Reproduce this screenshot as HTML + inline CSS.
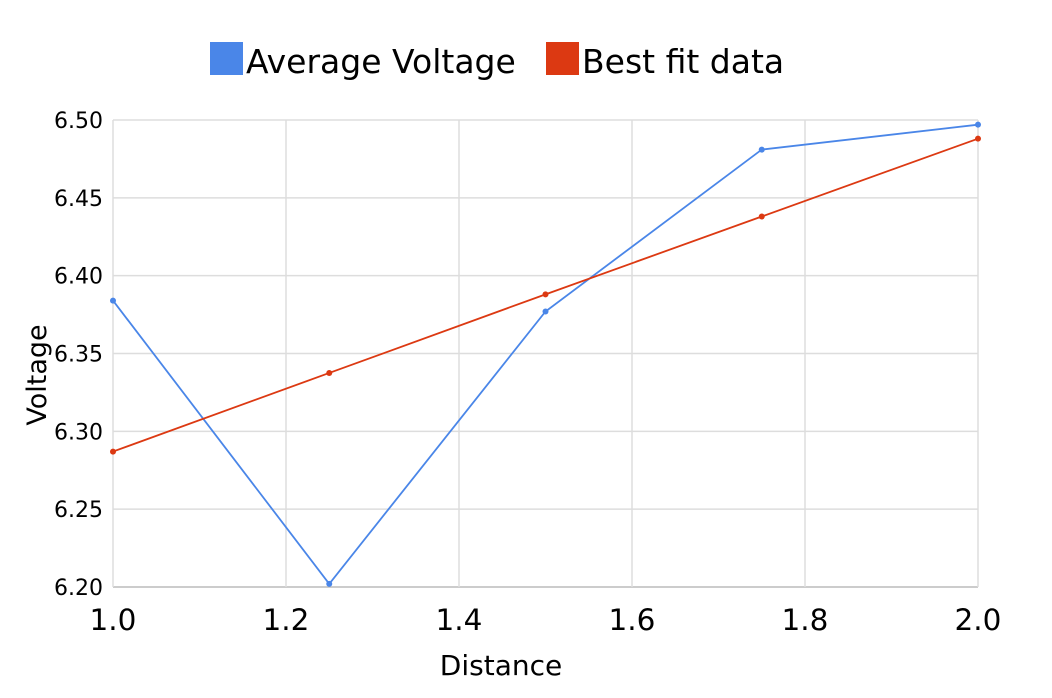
<!DOCTYPE html>
<html><head><meta charset="utf-8"><style>
body{margin:0;background:#fff;}
svg{display:block;font-family:"DejaVu Sans","Liberation Sans",sans-serif;}
</style></head><body>
<svg id="chart" width="1052" height="698">
<g id="grid"></g>
<g id="axes"></g>
<g id="series"></g>
<g>
<rect x="210" y="42" width="33" height="33" fill="#4a86e8"/>
<text x="246" y="73" font-size="33" fill="#000">Average Voltage</text>
<rect x="546" y="42" width="33" height="33" fill="#dc3912"/>
<text x="582" y="73" font-size="33" fill="#000">Best fit data</text>
</g>
<text x="501" y="675" font-size="28" text-anchor="middle">Distance</text>
<text transform="translate(46,375) rotate(-90)" font-size="27" text-anchor="middle">Voltage</text>
</svg>
<script>
const xValues=[1.0,1.25,1.5,1.75,2.0];
const avgVoltage=[6.384,6.202,6.377,6.481,6.497];
const bestFit=[6.287,6.3375,6.388,6.438,6.488];
const xTicks=[1.0,1.2,1.4,1.6,1.8,2.0];
const xTickLabels=["1.0","1.2","1.4","1.6","1.8","2.0"];
const yTicks=[6.20,6.25,6.30,6.35,6.40,6.45,6.50];
const yTickLabels=["6.20","6.25","6.30","6.35","6.40","6.45","6.50"];
const NS="http://www.w3.org/2000/svg";
const X0=113,X1=978,Y0=587,Y1=120;
function sx(v){return X0+(v-1.0)/(2.0-1.0)*(X1-X0);}
function sy(v){return Y0-(v-6.2)/(6.5-6.2)*(Y0-Y1);}
function mk(tag,attrs,parent){const e=document.createElementNS(NS,tag);for(const k in attrs)e.setAttribute(k,attrs[k]);parent.appendChild(e);return e;}
const grid=document.getElementById('grid'),axes=document.getElementById('axes'),series=document.getElementById('series');
yTicks.forEach((t,i)=>{
 const l=mk('line',{x1:X0,x2:X1,y1:sy(t),y2:sy(t),stroke:i==0?'#bbb':'#ddd','stroke-width':1.5},grid);
 
 
 const tx=mk('text',{x:X0-10,y:sy(t)+8,'font-size':22,'text-anchor':'end'},axes);
 tx.textContent=yTickLabels[i];
 
 
});
xTicks.forEach((t,i)=>{
 const l=mk('line',{x1:sx(t),x2:sx(t),y1:Y1,y2:Y0,stroke:'#ddd','stroke-width':1.5},grid);
 
 
 const tx=mk('text',{x:sx(t),y:630,'font-size':29.5,'text-anchor':'middle'},axes);
 tx.textContent=xTickLabels[i];
 
 
});
function draw(vals,color,name){
 const p=mk('polyline',{points:vals.map((v,i)=>sx(xValues[i])+','+sy(v)).join(' '),fill:'none',stroke:color,'stroke-width':1.8},series);
 
 
 vals.forEach((v,i)=>{
  const c=mk('circle',{cx:sx(xValues[i]),cy:sy(v),r:3,fill:color},series);
  
  
 });
}
draw(avgVoltage,'#4a86e8','average-voltage');
draw(bestFit,'#dc3912','best-fit');
</script>
</body></html>
